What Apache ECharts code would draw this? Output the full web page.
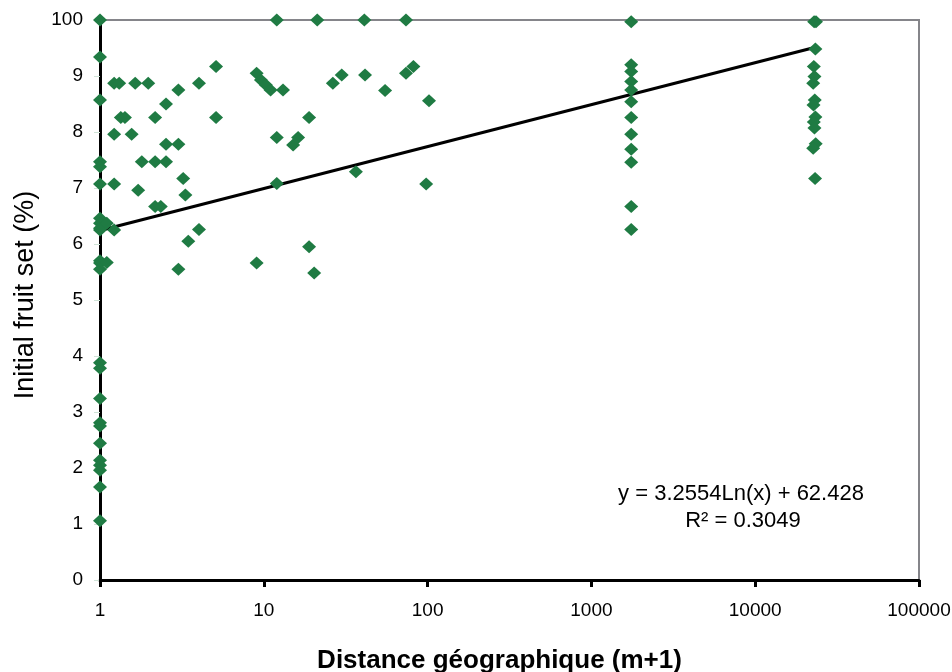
<!DOCTYPE html>
<html><head><meta charset="utf-8">
<script src="https://cdn.jsdelivr.net/npm/echarts@6/dist/echarts.min.js"></script>
<style>html,body{margin:0;padding:0;background:#fff}#c{width:952px;height:672px}</style>
</head><body><div id="c"></div>
<script>
// Observed points: [distance (m+1), initial fruit set %]
const distances = [
 1,1,1,1,1,1,1,1,1,1,1,1,1,1,1,1,1,1,1,1,1,1,1,1,
 1.10,1.10,1.22,1.31,1.22,1.22,1.22,1.34,1.42,1.56,1.64,1.71,1.80,1.97,
 2.17,2.17,2.17,2.35,2.53,2.53,2.53,3.01,3.01,3.01,3.22,3.32,3.46,4.02,4.02,5.11,5.11,
 9.04,9.04,9.6,10.3,11.0,12.0,12.0,12.0,13.1,15.1,16.2,18.9,18.9,20.3,21.2,26.4,29.9,36.5,41.1,41.5,55.0,73.8,73.8,81.9,98,102,
 1750,1750,1750,1750,1750,1750,1750,1750,1750,1750,1750,1750,
 22900,23500,23300,22800,23000,22600,23100,22700,23300,22800,23000,23400,22600,23200
];
const fruitSet = [
 100,93.4,85.7,74.7,73.8,70.7,64.6,62.5,56.6,55.5,38.8,37.8,32.4,28.1,27.5,24.4,21.4,20.5,19.6,16.6,10.6,63.7,57,62.8,
 63.7,56.7,88.7,88.7,79.6,70.7,62.5,82.6,82.6,79.6,88.7,69.6,74.7,88.7,
 82.6,74.7,66.7,66.7,85.0,74.7,77.8,87.5,77.8,55.5,71.7,68.75,60.5,88.7,62.6,91.7,82.6,
 90.5,56.6,89.3,88.4,87.5,100,79.0,70.8,87.5,77.7,79.0,82.6,59.5,54.8,100,88.7,90.2,72.9,100,90.2,87.4,100,90.5,91.7,70.7,85.6,
 99.7,92.0,90.8,89.0,87.5,85.4,82.6,79.6,76.9,74.6,66.7,62.6,
 99.7,99.7,94.8,91.7,89.9,88.7,85.7,84.8,82.7,81.8,80.7,77.9,77.1,71.7
];
// Trend line endpoints (straight on a log x axis)
const trendX = [1, 23000];
const trendY = [62.4, 95.1];
const yTickLabels = ['0','1','2','3','4','5','6','7','8','9','100'];
const xTitle = 'Distance géographique (m+1)';
const yTitle = 'Initial fruit set (%)';
const eqLine1 = 'y = 3.2554Ln(x) + 62.428';
const eqLine2 = 'R² = 0.3049';

const pts = distances.map((d, i) => [d, fruitSet[i]]);
const trend = trendX.map((d, i) => [d, trendY[i]]);
const FONT = 'Helvetica, "Liberation Sans", Arial, sans-serif';

const chart = echarts.init(document.getElementById('c'), null, {renderer: 'canvas'});
chart.setOption({
  animation: false,
  backgroundColor: '#fff',
  grid: {left: 100, top: 20, right: 33, bottom: 92, containLabel: false, outerBoundsMode: 'none',
         show: true, borderColor: '#85858a', borderWidth: 2, backgroundColor: 'transparent'},
  xAxis: {
    type: 'log', logBase: 10, min: 1, max: 100000,
    name: xTitle, nameLocation: 'middle', nameGap: 68,
    nameTextStyle: {fontFamily: FONT, fontSize: 26, fontWeight: 'bold', color: '#000', padding: [0, 20, 0, 0]},
    axisLine: {lineStyle: {color: '#000', width: 3}},
    axisTick: {show: true, length: 7, lineStyle: {color: '#000', width: 3}},
    axisLabel: {fontFamily: FONT, fontSize: 19, color: '#000', margin: 21,
      formatter: v => String(Math.round(v))},
    splitLine: {show: false}, minorTick: {show: false}
  },
  yAxis: {
    type: 'value', min: 0, max: 100, interval: 10,
    name: yTitle, nameLocation: 'middle', nameGap: 61, nameRotate: 90,
    nameTextStyle: {fontFamily: FONT, fontSize: 27, color: '#000', padding: [0, 0, 0, 10]},
    axisLine: {lineStyle: {color: '#000', width: 3}},
    axisTick: {show: true, length: 6, lineStyle: {color: '#cfe3d6', width: 1}},
    axisLabel: {fontFamily: FONT, fontSize: 19, color: '#000', margin: 17,
      formatter: v => yTickLabels[Math.round(v / 10)]},
    splitLine: {show: false}
  },
  series: [
    {type: 'line', data: trend, symbol: 'none', lineStyle: {color: '#000', width: 3}, z: 3, silent: true},
    {type: 'scatter', data: pts, symbol: 'diamond', symbolSize: [14, 13], clip: false,
     itemStyle: {color: '#1f7b43', opacity: 1}, z: 4}
  ],
  graphic: [
    {type: 'text', x: 741, y: 483, style: {text: eqLine1, align: 'center', verticalAlign: 'top', font: '22px ' + FONT, fill: '#000'}},
    {type: 'text', x: 743, y: 510, style: {text: eqLine2, align: 'center', verticalAlign: 'top', font: '22px ' + FONT, fill: '#000'}}
  ]
});
</script></body></html>
